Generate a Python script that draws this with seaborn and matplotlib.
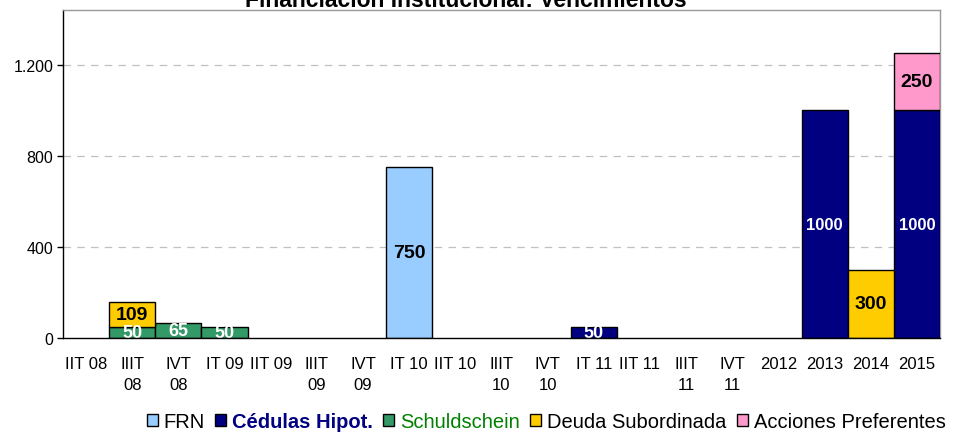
import matplotlib
matplotlib.use("Agg")
import matplotlib.pyplot as plt
import matplotlib.patches as mpatches
import seaborn as sns
import pandas as pd

# ---- data ----
categories = ["IIT 08", "IIIT 08", "IVT 08", "IT 09", "IIT 09", "IIIT 09", "IVT 09",
              "IT 10", "IIT 10", "IIIT 10", "IVT 10", "IT 11", "IIT 11", "IIIT 11",
              "IVT 11", "2012", "2013", "2014", "2015"]
tick_labels = ["IIT 08", "IIIT\n08", "IVT\n08", "IT 09", "IIT 09", "IIIT\n09", "IVT\n09",
               "IT 10", "IIT 10", "IIIT\n10", "IVT\n10", "IT 11", "IIT 11", "IIIT\n11",
               "IVT\n11", "2012", "2013", "2014", "2015"]
series_names = ["FRN", "Cédulas Hipot.", "Schuldschein", "Deuda Subordinada", "Acciones Preferentes"]
frn =          [0, 0, 0, 0, 0, 0, 0, 750, 0, 0, 0, 0, 0, 0, 0, 0, 0, 0, 0]
cedulas =      [0, 0, 0, 0, 0, 0, 0, 0, 0, 0, 0, 50, 0, 0, 0, 0, 1000, 0, 1000]
schuldschein = [0, 50, 65, 50, 0, 0, 0, 0, 0, 0, 0, 0, 0, 0, 0, 0, 0, 0, 0]
deuda_sub =    [0, 109, 0, 0, 0, 0, 0, 0, 0, 0, 0, 0, 0, 0, 0, 0, 0, 300, 0]
acciones =     [0, 0, 0, 0, 0, 0, 0, 0, 0, 0, 0, 0, 0, 0, 0, 0, 0, 0, 250]
yticks = [0, 400, 800, 1200]
ytick_labels = ["0", "400", "800", "1.200"]

series_values = [frn, cedulas, schuldschein, deuda_sub, acciones]
colors = ["#99CCFF", "#000080", "#339966", "#FFCC00", "#FF99CC"]
label_colors = ["black", "white", "white", "black", "black"]
legend_text_colors = ["black", "#000080", "#008000", "black", "black"]
legend_weights = ["normal", "bold", "normal", "normal", "normal"]

sns.set_theme(style="white")
plt.rcParams["font.family"] = ["Liberation Sans", "DejaVu Sans"]

fig = plt.figure(figsize=(9.58, 4.39), dpi=100)
ax = fig.add_axes([63 / 958, 1 - 339 / 439, (940 - 63) / 958, (339 - 11) / 439])

# stacked order: base series first, then Deuda, then Acciones on top
stack_order = [2, 1, 0, 3, 4]
bottoms = [0] * len(categories)
for si in stack_order:
    vals = series_values[si]
    for ci, v in enumerate(vals):
        if v <= 0:
            continue
        df = pd.DataFrame({"cat": [categories[ci]], "val": [v]})
        sns.barplot(data=df, x="cat", y="val", order=categories, color=colors[si],
                    saturation=1, width=1.0, edgecolor="black", linewidth=1.0,
                    bottom=bottoms[ci], ax=ax, zorder=3)
        if v >= 1000:
            fs = 12
        elif v <= 65:
            fs = 13
        else:
            fs = 14
        ax.bar_label(ax.containers[-1], labels=[str(v)], label_type="center",
                     color=label_colors[si], fontweight="bold", fontsize=fs, zorder=4)
        bottoms[ci] += v

ax.set_xlim(-0.5, len(categories) - 0.5)
ax.set_ylim(0, 1440)
ax.set_xticks(range(len(categories)))
ax.set_xticklabels(tick_labels, fontsize=12, color="black", linespacing=1.5, va="top")
ax.set_yticks(yticks)
ax.set_yticklabels(ytick_labels, fontsize=11.5, color="black")
ax.set_xlabel("")
ax.set_ylabel("")
ax.tick_params(axis="x", length=0, pad=13)
ax.tick_params(axis="y", length=4, width=1, color="black", direction="out", left=True, pad=3)
for y in yticks[1:]:
    ax.axhline(y, color="#C0C0C0", linestyle=(0, (6, 5)), linewidth=0.9, zorder=1)

for side in ["left", "bottom"]:
    ax.spines[side].set_color("black")
    ax.spines[side].set_linewidth(1.0)
for side in ["top", "right"]:
    ax.spines[side].set_color("#999999")
    ax.spines[side].set_linewidth(1.0)
ax.spines["bottom"].set_zorder(5)

fig.text(0.486, 1 - 7 / 439, "Financiación Institucional: Vencimientos", ha="center",
         va="baseline", fontsize=16.5, fontweight="bold", color="black")

handles = [mpatches.Patch(facecolor=c, edgecolor="black", linewidth=1.0) for c in colors]
leg = fig.legend(handles, series_names, loc="center", bbox_to_anchor=(546 / 958, 1 - 423 / 439),
                 ncol=5, frameon=False, fontsize=14.5, handlelength=0.55, handleheight=0.55,
                 handletextpad=0.3, columnspacing=0.5, borderpad=0)
for t, c, w in zip(leg.get_texts(), legend_text_colors, legend_weights):
    t.set_color(c)
    t.set_fontweight(w)

fig.savefig("out.png", dpi=100)
